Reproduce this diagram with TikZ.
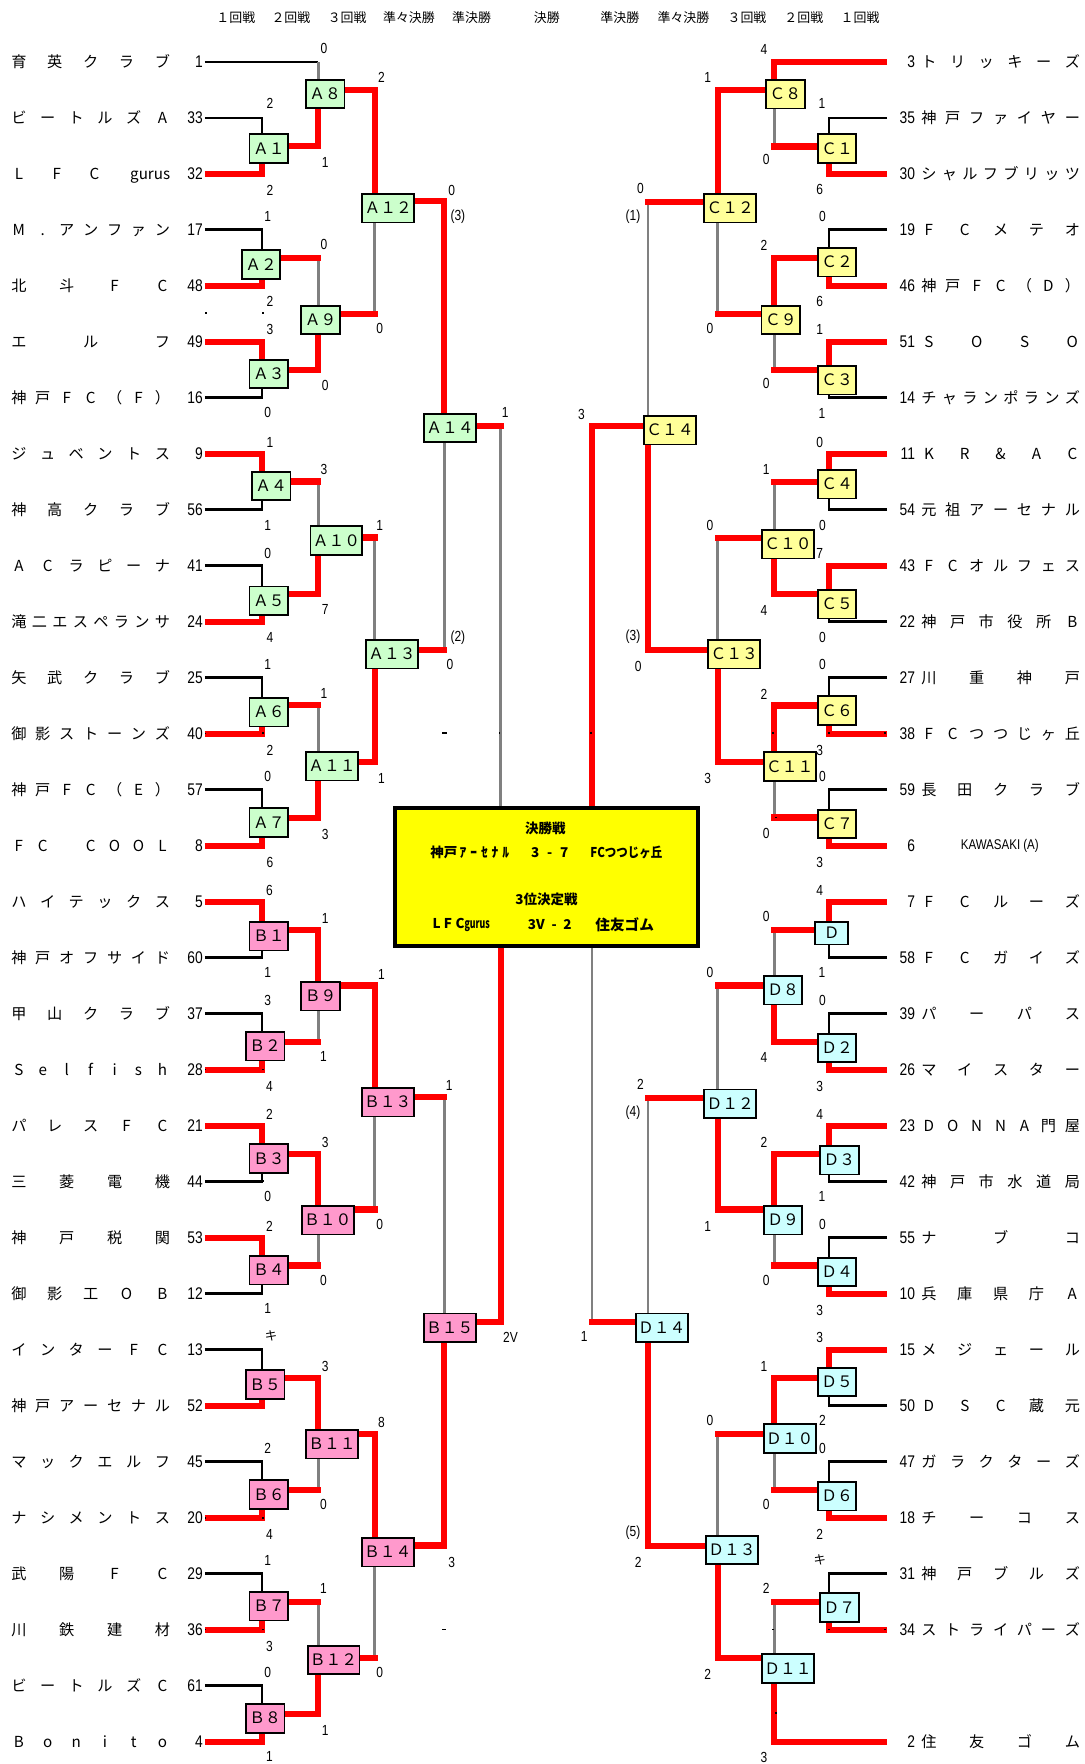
\documentclass[tikz,border=0pt]{standalone}
\usepackage{fontspec}
\setmainfont{Noto Sans CJK JP}
\newfontfamily\nar[FakeStretch=0.82]{Liberation Sans}
\usetikzlibrary{calc}
\pgfdeclarelayer{back}
\pgfdeclarelayer{bg}
\pgfsetlayers{back,bg,main}
\definecolor{ag}{HTML}{CCFFCC}
\definecolor{bp}{HTML}{FF99CC}
\definecolor{cy}{HTML}{FFFF99}
\definecolor{dc}{HTML}{CCFFFF}
\definecolor{rl}{HTML}{FF0000}
\definecolor{gl}{HTML}{808080}
\definecolor{fy}{HTML}{FFFF00}
\tikzset{
  bx/.style={draw=black,line width=1.6pt,inner xsep=2pt,inner ysep=0pt,minimum width=34.4pt,minimum height=25.4pt,text height=10pt,text depth=0pt,font=\fontsize{14}{14}\selectfont},
  ab/.style={bx,fill=ag}, bb/.style={bx,fill=bp}, cb/.style={bx,fill=cy}, db/.style={bx,fill=dc},
  redl/.style={draw=rl,line width=5.5pt},
  blk/.style={draw=black,line width=2.4pt},
  gry/.style={draw=gl,line width=2.2pt},
  sc/.style={font=\nar\fontsize{13}{13}\selectfont,inner sep=0pt},
  seed/.style={font=\nar\fontsize{15}{15}\selectfont,inner sep=0pt,anchor=east},
  nm/.style={font=\fontsize{13.5}{13.5}\selectfont,inner sep=0pt,text height=11.5pt,text depth=1.5pt},
  hd/.style={font=\fontsize{11.5}{11.5}\selectfont,inner sep=0pt},
  fb/.style={font=\bfseries\fontsize{12}{12}\selectfont,inner sep=0pt},
}
\newcommand\ry[1]{55+49.77*#1}
\newcommand\lteam[4]{%
  \node[seed] (ls#1) at (180.5,{\ry{#1}}) {#2};
  \foreach \ch [count=\k from 0] in {#4}{\node[nm] (ln#1-\k) at ({16.8+127.6*\k/(#3-1)},{\ry{#1}}) {\ch};}}
\newcommand\rteam[4]{%
  \node[seed] (rs#1) at (813.5,{\ry{#1}}) {#2};
  \foreach \ch [count=\k from 0] in {#4}{\node[nm] (rn#1-\k) at ({825.7+127.5*\k/(#3-1)},{\ry{#1}}) {\ch};}}
\newcommand\Lr[3]{\draw[#3] (lE#1) -| (L1 |- #2);}
\newcommand\Rr[3]{\draw[#3] (rE#1) -| (R1 |- #2);}
\newcommand\conn[5]{%
  \ifx r#5
    \draw[redl,line cap=rect] (#1 |- 0,#2) -- (#3 |- 0,#2) -- (#3 |- #4);
  \else
    \draw[gry] (#3 |- 0,#2) -- (#3 |- #4);
    \draw[redl,line cap=rect] (#1 |- 0,#2) -- (#3 |- 0,#2);
  \fi}
\begin{document}
\begin{tikzpicture}[x=1pt,y=-1pt]
\useasboundingbox (0,0) rectangle (964,1568);
\begin{pgfonlayer}{back}
\fill[white] (0,0) rectangle (964,1568);
\end{pgfonlayer}
% vertical guide coordinates
\coordinate (L1) at (233,0); \coordinate (L2) at (283,0); \coordinate (L3) at (333,0);
\coordinate (L4) at (395,0); \coordinate (L5) at (445,0);
\coordinate (R1) at (737,0); \coordinate (R2) at (688.3,0); \coordinate (R3) at (637.9,0);
\coordinate (R4) at (576.2,0); \coordinate (R5) at (526,0);
\foreach \i in {0,...,30}{\coordinate (lE\i) at (182,{\ry{\i}}); \coordinate (rE\i) at (788.6,{\ry{\i}});}
% headers
\node[hd] (h1) at (209.6,16) {１回戦};
\node[hd] (h2) at (258.6,16) {２回戦};
\node[hd] (h3) at (308.6,16) {３回戦};
\node[hd] (h4) at (363.5,16) {準々決勝};
\node[hd] (h5) at (419.2,16) {準決勝};
\node[hd] (h6) at (486,16) {決勝};
\node[hd] (h7) at (551,16) {準決勝};
\node[hd] (h8) at (607.5,16) {準々決勝};
\node[hd] (h9) at (664,16) {３回戦};
\node[hd] (h10) at (714.5,16) {２回戦};
\node[hd] (h11) at (764.5,16) {１回戦};
% final box
\node[draw=black,line width=3.5pt,fill=fy,minimum width=270pt,minimum height=122.4pt,inner sep=0pt] (F) at (485.8,779.65) {};
\node[fb] (f1) at (484.8,736) {決勝戦};
\node[fb] (f2) at (417.6,757.6) {神戸\hspace{2pt}ｱ\hspace{3.5pt}ｰ\hspace{3.5pt}ｾ\hspace{3.5pt}ﾅ\hspace{3.5pt}ﾙ};
\node[fb] (f3) at (488.7,757.6) {3\hspace{7pt}-\hspace{7pt}7};
\node[fb] (f4) at (556.8,757.6) {\scalebox{0.85}[1]{FCつつじヶ丘}};
\node[fb] (f5) at (485.7,799.6) {3位決定戦};
\node[fb] (f6) at (410,822) {L\hspace{3pt}F\hspace{3pt}C\scalebox{0.65}[1]{gurus}};
\node[fb] (f7) at (488.7,822) {3V\hspace{6pt}-\hspace{6pt}2};
\node[fb,font=\bfseries\fontsize{13}{13}\selectfont] (f8) at (555.3,822) {住友ゴム};
% boxes A
\node[ab] (A8) at (289,83.5) {Ａ８};
\node[ab] (A1) at (239,132) {Ａ１};
\node[ab] (A2) at (232,235) {Ａ２};
\node[ab] (A3) at (239,332.5) {Ａ３};
\node[ab] (A9) at (285,284.5) {Ａ９};
\node[ab] (A12) at (345,185) {Ａ１２};
\node[ab] (A14) at (400,380.5) {Ａ１４};
\node[ab] (A4) at (241,432) {Ａ４};
\node[ab] (A5) at (239,534) {Ａ５};
\node[ab] (A10) at (299,480.5) {Ａ１０};
\node[ab] (A6) at (239,633) {Ａ６};
\node[ab] (A7) at (239,731) {Ａ７};
\node[ab] (A11) at (295,681) {Ａ１１};
\node[ab] (A13) at (348.5,581.5) {Ａ１３};
% boxes B
\node[bb] (B1) at (239,832.2) {Ｂ１};
\node[bb] (B2) at (235.6,930) {Ｂ２};
\node[bb] (B9) at (285,885.5) {Ｂ９};
\node[bb] (B13) at (344.7,979.7) {Ｂ１３};
\node[bb] (B3) at (239,1029.8) {Ｂ３};
\node[bb] (B4) at (239,1129) {Ｂ４};
\node[bb] (B10) at (291.4,1084.6) {Ｂ１０};
\node[bb] (B15) at (399.8,1180.2) {Ｂ１５};
\node[bb] (B5) at (235.6,1230.6) {Ｂ５};
\node[bb] (B6) at (239,1328.4) {Ｂ６};
\node[bb] (B11) at (295,1283.7) {Ｂ１１};
\node[bb] (B14) at (344.7,1379.7) {Ｂ１４};
\node[bb] (B7) at (239,1427.7) {Ｂ７};
\node[bb] (B8) at (235.6,1527.4) {Ｂ８};
\node[bb] (B12) at (296.5,1475.6) {Ｂ１２};
% boxes C
\node[cb] (C8) at (698,83.7) {Ｃ８};
\node[cb] (C1) at (744,132) {Ｃ１};
\node[cb] (C12) at (649,185) {Ｃ１２};
\node[cb] (C2) at (744,233) {Ｃ２};
\node[cb] (C9) at (694,284.5) {Ｃ９};
\node[cb] (C3) at (744,338) {Ｃ３};
\node[cb] (C14) at (595.6,382.4) {Ｃ１４};
\node[cb] (C4) at (744,430.4) {Ｃ４};
\node[cb] (C10) at (700.5,483.7) {Ｃ１０};
\node[cb] (C5) at (744,537) {Ｃ５};
\node[cb] (C13) at (652.6,581.5) {Ｃ１３};
\node[cb] (C6) at (744,631.5) {Ｃ６};
\node[cb] (C11) at (702,681.3) {Ｃ１１};
\node[cb] (C7) at (744,732.5) {Ｃ７};
% boxes D
\node[db,inner xsep=0pt,minimum width=29.4pt,minimum height=20.4pt,text height=9.5pt] (D1) at (739.4,829.4) {Ｄ};
\node[db] (D8) at (696,880.2) {Ｄ８};
\node[db] (D2) at (744,931.5) {Ｄ２};
\node[db] (D12) at (649,981.2) {Ｄ１２};
\node[db] (D3) at (746,1031.3) {Ｄ３};
\node[db] (D9) at (696,1084.6) {Ｄ９};
\node[db] (D4) at (744,1130.7) {Ｄ４};
\node[db] (D14) at (588.3,1180.2) {Ｄ１４};
\node[db] (D5) at (744,1228.5) {Ｄ５};
\node[db] (D10) at (702,1278.6) {Ｄ１０};
\node[db] (D6) at (744,1329.9) {Ｄ６};
\node[db] (D13) at (650.7,1377.8) {Ｄ１３};
\node[db] (D7) at (746,1429) {Ｄ７};
\node[db] (D11) at (700.5,1483) {Ｄ１１};
% connectors
\begin{pgfonlayer}{bg}
\draw[blk] (lE0) -- (L2 |- lE0);
\draw[gry] (L2 |- lE0) -- (L2 |- A8.north);
\Lr{1}{A1.north}{blk} \Lr{2}{A1.south}{redl}
\Lr{3}{A2.north}{blk} \Lr{4}{A2.south}{redl}
\Lr{5}{A3.north}{redl} \Lr{6}{A3.south}{blk}
\Lr{7}{A4.north}{redl} \Lr{8}{A4.south}{blk}
\Lr{9}{A5.north}{blk} \Lr{10}{A5.south}{redl}
\Lr{11}{A6.north}{blk} \Lr{12}{A6.south}{redl}
\Lr{13}{A7.north}{blk} \Lr{14}{A7.south}{redl}
\Lr{15}{B1.north}{redl} \Lr{16}{B1.south}{blk}
\Lr{17}{B2.north}{blk} \Lr{18}{B2.south}{redl}
\Lr{19}{B3.north}{redl} \Lr{20}{B3.south}{blk}
\Lr{21}{B4.north}{redl} \Lr{22}{B4.south}{blk}
\Lr{23}{B5.north}{blk} \Lr{24}{B5.south}{redl}
\Lr{25}{B6.north}{blk} \Lr{26}{B6.south}{redl}
\Lr{27}{B7.north}{blk} \Lr{28}{B7.south}{redl}
\Lr{29}{B8.north}{blk} \Lr{30}{B8.south}{redl}
\draw[redl] (rE0) -| (R2 |- C8.north);
\Rr{1}{C1.north}{blk} \Rr{2}{C1.south}{redl}
\Rr{3}{C2.north}{blk} \Rr{4}{C2.south}{redl}
\Rr{5}{C3.north}{redl} \Rr{6}{C3.south}{blk}
\Rr{7}{C4.north}{redl} \Rr{8}{C4.south}{blk}
\Rr{9}{C5.north}{redl} \Rr{10}{C5.south}{blk}
\Rr{11}{C6.north}{blk} \Rr{12}{C6.south}{redl}
\Rr{13}{C7.north}{blk} \Rr{14}{C7.south}{redl}
\Rr{15}{D1.north}{redl} \Rr{16}{D1.south}{blk}
\Rr{17}{D2.north}{blk} \Rr{18}{D2.south}{redl}
\Rr{19}{D3.north}{redl} \Rr{20}{D3.south}{blk}
\Rr{21}{D4.north}{blk} \Rr{22}{D4.south}{redl}
\Rr{23}{D5.north}{redl} \Rr{24}{D5.south}{blk}
\Rr{25}{D6.north}{blk} \Rr{26}{D6.south}{redl}
\Rr{27}{D7.north}{blk} \Rr{28}{D7.south}{redl}
\draw[redl] (rE30) -| (R2 |- D11.south);
% left outputs
\conn{A1.east}{130}{L2}{A8.south}{r}
\conn{A8.east}{80}{L3}{A12.north}{r}
\conn{A2.east}{229}{L2}{A9.north}{g}
\conn{A3.east}{329}{L2}{A9.south}{r}
\conn{A9.east}{279}{L3}{A12.south}{g}
\conn{A12.east}{179}{L4}{A14.north}{r}
\conn{A4.east}{428}{L2}{A10.north}{g}
\conn{A5.east}{527.8}{L2}{A10.south}{r}
\conn{A10.east}{477.8}{L3}{A13.north}{g}
\conn{A6.east}{627}{L2}{A11.north}{g}
\conn{A7.east}{727.2}{L2}{A11.south}{r}
\conn{A11.east}{677.4}{L3}{A13.south}{r}
\conn{A13.east}{577.6}{L4}{A14.south}{g}
\conn{A14.east}{378.5}{L5}{F.north}{g}
\conn{B1.east}{826.3}{L2}{B9.north}{r}
\conn{B2.east}{926.1}{L2}{B9.south}{g}
\conn{B9.east}{876}{L3}{B13.north}{r}
\conn{B3.east}{1025.7}{L2}{B10.north}{r}
\conn{B4.east}{1124.9}{L2}{B10.south}{g}
\conn{B10.east}{1075.1}{L3}{B13.south}{g}
\conn{B13.east}{975.3}{L4}{B15.north}{g}
\conn{B5.east}{1224.7}{L2}{B11.north}{r}
\conn{B6.east}{1324.2}{L2}{B11.south}{g}
\conn{B11.east}{1274.5}{L3}{B14.north}{r}
\conn{B7.east}{1423.8}{L2}{B12.north}{g}
\conn{B8.east}{1523.3}{L2}{B12.south}{r}
\conn{B12.east}{1473.5}{L3}{B14.south}{g}
\conn{B14.east}{1373.7}{L4}{B15.south}{r}
\conn{B15.east}{1175}{L5}{F.south}{r}
% right outputs
\conn{C1.west}{130.3}{R2}{C8.south}{g}
\conn{C8.west}{80}{R3}{C12.north}{r}
\conn{C2.west}{229}{R2}{C9.north}{r}
\conn{C3.west}{328.8}{R2}{C9.south}{g}
\conn{C9.west}{279.3}{R3}{C12.south}{g}
\conn{C12.west}{179.8}{R4}{C14.north}{g}
\conn{C4.west}{428.6}{R2}{C10.north}{g}
\conn{C5.west}{527.8}{R2}{C10.south}{r}
\conn{C10.west}{478.4}{R3}{C13.north}{g}
\conn{C6.west}{627.1}{R2}{C11.north}{r}
\conn{C7.west}{726.6}{R2}{C11.south}{g}
\conn{C11.west}{677.4}{R3}{C13.south}{r}
\conn{C13.west}{577.6}{R4}{C14.south}{r}
\conn{C14.west}{378.6}{R5}{F.north}{r}
\conn{D1.west}{826.3}{R2}{D8.north}{g}
\conn{D2.west}{926.1}{R2}{D8.south}{r}
\conn{D8.west}{876}{R3}{D12.north}{g}
\conn{D3.west}{1025.7}{R2}{D9.north}{r}
\conn{D4.west}{1124.9}{R2}{D9.south}{g}
\conn{D9.west}{1075.1}{R3}{D12.south}{r}
\conn{D12.west}{975.9}{R4}{D14.north}{g}
\conn{D14.west}{1175}{R5}{F.south}{g}
\conn{D5.west}{1224.7}{R2}{D10.north}{r}
\conn{D6.west}{1324.2}{R2}{D10.south}{g}
\conn{D10.west}{1274.5}{R3}{D13.north}{g}
\conn{D7.west}{1423.8}{R2}{D11.north}{g}
\conn{D11.west}{1473.5}{R3}{D13.south}{r}
\conn{D13.west}{1374.3}{R4}{D14.south}{r}
\end{pgfonlayer}
% left teams
\lteam{0}{1}{5}{育,英,ク,ラ,ブ}
\lteam{1}{33}{6}{ビ,ー,ト,ル,ズ,A}
\node[seed] (ls2) at (180.5,{\ry{2}}) {32};
\node[nm] (ln2-0) at (16.8,{\ry{2}}) {L};
\node[nm] (ln2-1) at (50.5,{\ry{2}}) {F};
\node[nm] (ln2-2) at (84,{\ry{2}}) {C};
\node[nm,anchor=east] (ln2-3) at (151.5,{\ry{2}}) {gurus};
\lteam{3}{17}{7}{M,.,ア,ン,フ,ァ,ン}
\lteam{4}{48}{4}{北,斗,F,C}
\lteam{5}{49}{3}{エ,ル,フ}
\lteam{6}{16}{7}{神,戸,F,C,（,F,）}
\lteam{7}{9}{6}{ジ,ュ,ベ,ン,ト,ス}
\lteam{8}{56}{5}{神,高,ク,ラ,ブ}
\lteam{9}{41}{6}{A,C,ラ,ピ,ー,ナ}
\lteam{10}{24}{8}{滝,二,エ,ス,ペ,ラ,ン,サ}
\lteam{11}{25}{5}{矢,武,ク,ラ,ブ}
\lteam{12}{40}{7}{御,影,ス,ト,ー,ン,ズ}
\lteam{13}{57}{7}{神,戸,F,C,（,E,）}
\lteam{14}{8}{7}{F,C,\mbox{},C,O,O,L}
\lteam{15}{5}{6}{ハ,イ,テ,ッ,ク,ス}
\lteam{16}{60}{7}{神,戸,オ,フ,サ,イ,ド}
\lteam{17}{37}{5}{甲,山,ク,ラ,ブ}
\lteam{18}{28}{7}{S,e,l,f,i,s,h}
\lteam{19}{21}{5}{パ,レ,ス,F,C}
\lteam{20}{44}{4}{三,菱,電,機}
\lteam{21}{53}{4}{神,戸,税,関}
\lteam{22}{12}{5}{御,影,工,O,B}
\lteam{23}{13}{6}{イ,ン,タ,ー,F,C}
\lteam{24}{52}{7}{神,戸,ア,ー,セ,ナ,ル}
\lteam{25}{45}{6}{マ,ッ,ク,エ,ル,フ}
\lteam{26}{20}{6}{ナ,シ,メ,ン,ト,ス}
\lteam{27}{29}{4}{武,陽,F,C}
\lteam{28}{36}{4}{川,鉄,建,材}
\lteam{29}{61}{6}{ビ,ー,ト,ル,ズ,C}
\lteam{30}{4}{6}{B,o,n,i,t,o}
% right teams
\rteam{0}{3}{6}{ト,リ,ッ,キ,ー,ズ}
\rteam{1}{35}{7}{神,戸,フ,ァ,イ,ヤ,ー}
\rteam{2}{30}{8}{シ,ャ,ル,フ,ブ,リ,ッ,ツ}
\rteam{3}{19}{5}{F,C,メ,テ,オ}
\rteam{4}{46}{7}{神,戸,F,C,（,D,）}
\rteam{5}{51}{4}{S,O,S,O}
\rteam{6}{14}{8}{チ,ャ,ラ,ン,ポ,ラ,ン,ズ}
\rteam{7}{11}{5}{K,R,\&,A,C}
\rteam{8}{54}{7}{元,祖,ア,ー,セ,ナ,ル}
\rteam{9}{43}{7}{F,C,オ,ル,フ,ェ,ス}
\rteam{10}{22}{6}{神,戸,市,役,所,B}
\rteam{11}{27}{4}{川,重,神,戸}
\rteam{12}{38}{7}{F,C,つ,つ,じ,ヶ,丘}
\rteam{13}{59}{5}{長,田,ク,ラ,ブ}
\node[seed] (rs14) at (813.5,{\ry{14}}) {6};
\node[font=\nar\fontsize{12.5}{12.5}\selectfont,inner sep=0pt] (rn14) at (888.7,{\ry{14}}) {KAWASAKI (A)};
\rteam{15}{7}{5}{F,C,ル,ー,ズ}
\rteam{16}{58}{5}{F,C,ガ,イ,ズ}
\rteam{17}{39}{4}{パ,ー,パ,ス}
\rteam{18}{26}{5}{マ,イ,ス,タ,ー}
\rteam{19}{23}{7}{D,O,N,N,A,門,屋}
\rteam{20}{42}{6}{神,戸,市,水,道,局}
\rteam{21}{55}{3}{ナ,ブ,コ}
\rteam{22}{10}{5}{兵,庫,県,庁,A}
\rteam{23}{15}{5}{メ,ジ,ェ,ー,ル}
\rteam{24}{50}{5}{D,S,C,蔵,元}
\rteam{25}{47}{6}{ガ,ラ,ク,タ,ー,ズ}
\rteam{26}{18}{4}{チ,ー,コ,ス}
\rteam{27}{31}{5}{神,戸,ブ,ル,ズ}
\rteam{28}{34}{7}{ス,ト,ラ,イ,パ,ー,ズ}
\rteam{30}{2}{4}{住,友,ゴ,ム}
% scores
\foreach \x/\y/\t [count=\n] in {288/43/0, 339/69/2, 240/92/2, 289/144/1, 240/169/2, 401.5/169/0, 238/192.5/1, 288/217/0, 240/268/2, 337.5/292/0, 240/293/3, 289/343/0, 238/367/0, 449/367/1, 240/393.4/1, 288/417/3, 238/467/1, 337.5/467/1, 238/491.7/0, 289/542/7, 240/567/4, 400/591/0, 238/591/1, 288/616/1, 240/667/2, 339/691.6/1, 238/690/0, 289/741.4/3, 240/766.6/6, 239.6/791.4/6, 289/816.5/1, 238/864.8/1, 339/866.3/1, 238/889.4/3, 287.6/939.5/1, 239.6/965.5/4, 399.3/964.6/1, 239.6/990.7/2, 289/1015.3/3, 238/1063.9/0, 337.5/1088.4/0, 239.6/1090/2, 287.6/1138.2/0, 238/1163.4/1, 453.8/1189.2/2V, 289/1214.3/3, 339/1264.1/8, 238/1287.8/2, 287.6/1337.3/0, 239.6/1363.9/4, 238/1387/1, 401.5/1388.5/3, 287.6/1412.2/1, 239.6/1463.2/3, 337.5/1486.3/0, 238/1486.3/0, 289/1537.8/1, 239.6/1561.5/1}
  {\node[sc] (sl\n) at (\x,\y) {\t};}
\foreach \x/\y/\t [count=\n] in {679/43.8/4, 629/69/1, 730.6/92.4/1, 681/142/0, 728.7/168.8/6, 569.4/167.4/0, 731/192/0, 679/218.3/2, 728.7/268/6, 631/291.8/0, 728.7/293.2/1, 681/341/0, 730.6/367.3/1, 516.9/368.8/3, 728.7/393.4/0, 681/417/1, 731/467.1/0, 631/467.1/0, 728.7/492.3/7, 679/542.6/4, 731/566.3/0, 567.2/592.4/0, 731/591/0, 679/617.6/2, 728.7/667/3, 629/691.6/3, 731/690/0, 681/740.5/0, 728.7/766.6/3, 728.7/791.4/4, 681/815/0, 730.6/864.8/1, 631/864.8/0, 731/889.4/0, 679/940.3/4, 728.7/965.5/3, 569.4/964/2, 728.7/990.7/4, 679/1015.3/2, 730.6/1063.9/1, 731/1088.4/0, 629/1089.9/1, 681/1138.2/0, 728.7/1164.6/3, 519.3/1187.7/1, 728.7/1189.2/3, 679/1214.3/1, 731/1262.3/2, 631/1262.3/0, 731/1287.5/0, 681/1337.3/0, 728.7/1363.9/2, 567.2/1388.5/2, 681/1412.2/2, 629/1488.3/2, 679/1562.4/3}
  {\node[sc] (sr\n) at (\x,\y) {\t};}
\node[sc] (p1) at (407,192.5) {(3)};
\node[sc] (p2) at (407,567) {(2)};
\node[sc] (p3) at (562.6,192.5) {(1)};
\node[sc] (p4) at (562.6,566.3) {(3)};
\node[sc] (p5) at (562.6,989.2) {(4)};
\node[sc] (p6) at (562.6,1362.4) {(5)};
\node[font=\fontsize{11}{11}\selectfont,inner sep=0pt] (k1) at (241,1187.7) {キ};
\node[font=\fontsize{11}{11}\selectfont,inner sep=0pt] (k2) at (728.7,1386.7) {キ};
% stray marks
\foreach \x/\y in {183/278, 234/278, 182.7/652, 234/651.6, 444/651.6, 182.7/950.7, 234/950.7, 182.7/1050.5, 234/1050, 182.7/1349.1, 234/1349.1, 182.7/1448.4, 234/1448.4, 525.5/651.6, 687.3/651.6, 737/651.6, 787/651.6, 690/726.6, 687.3/1448.4, 737/1448.4, 787/1448.4, 689.9/1522.4}
  {\fill[black] (\x-0.8,\y-0.8) rectangle ++(1.6,1.6);}
\fill[black] (393,651) rectangle (397,652.4);
\fill[black] (392.7,1447.8) rectangle (396.7,1449.2);
\end{tikzpicture}
\end{document}
